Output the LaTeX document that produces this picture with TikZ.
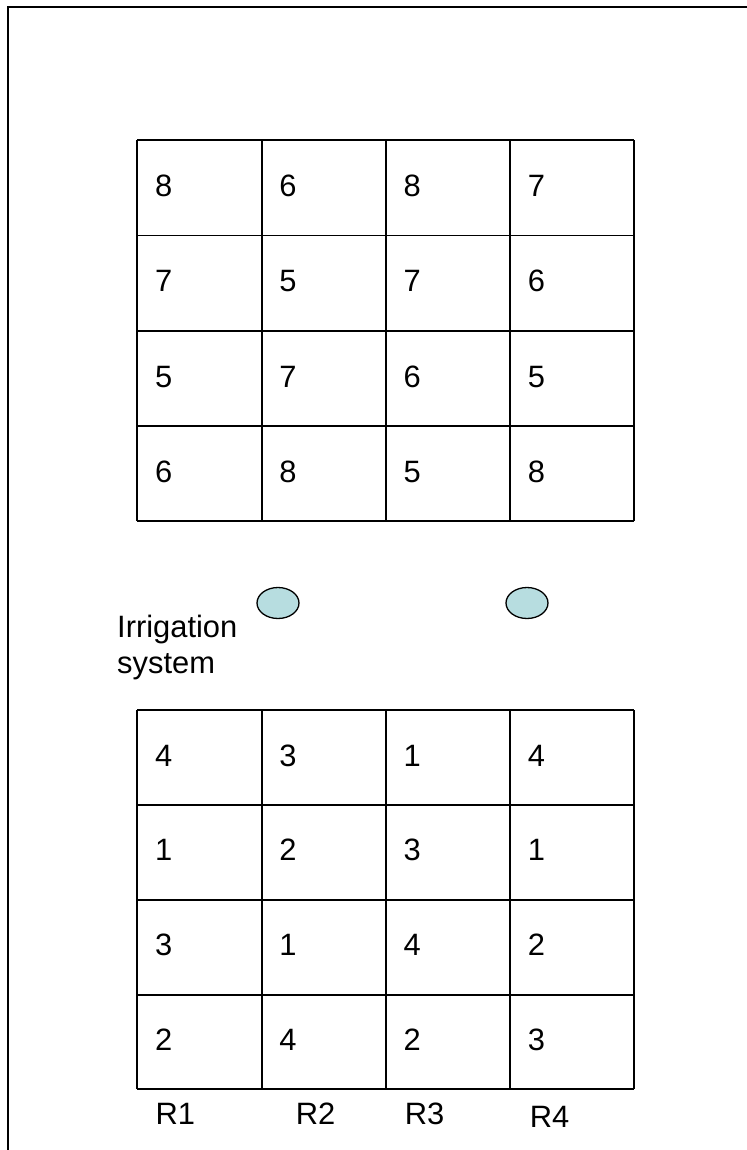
\documentclass[tikz,border=0pt]{standalone}
\usepackage{fontspec}
\setmainfont{Liberation Sans}
\usetikzlibrary{shapes.geometric}
\definecolor{sprinkler}{RGB}{183,221,224}
\begin{document}
\begin{tikzpicture}[x=1bp,y=-1bp,
  frame/.style={line width=1.3bp,black},
  gridline/.style={line width=1.6bp,black},
  celltext/.style={anchor=base west,inner sep=0pt,font=\fontsize{31}{36}\selectfont},
  sprink/.style={draw=black,fill=sprinkler,line width=1.3bp}]
\useasboundingbox (0,0) rectangle (747,1150);
% outer frame (left and top visible)
\coordinate (fbl) at (8,1152);
\coordinate (ftl) at (8,7);
\coordinate (ftr) at (749,7);
\draw[frame] (fbl) -- (ftl) -- (ftr);
% top grid
\foreach \x in {137,262,386,510,634} \draw[gridline] (\x,140) -- (\x,521);
\foreach \y in {140,235.5,331,426,521} \draw[gridline] (137,\y) -- (634,\y);
% bottom grid
\foreach \x in {137,262,386,510,634} \draw[gridline] (\x,710) -- (\x,1089);
\foreach \y in {710,805,900,995,1089} \draw[gridline] (137,\y) -- (634,\y);
% top numbers
\foreach \r/\vals in {0/{8,6,8,7},1/{7,5,7,6},2/{5,7,6,5},3/{6,8,5,8}}{
  \foreach \v [count=\c from 0] in \vals {
    \node[celltext] (t\r\c) at ({155+124.25*\c},{196.7+95.25*\r}) {\v};
  }
}
% bottom numbers
\foreach \r/\vals in {0/{4,3,1,4},1/{1,2,3,1},2/{3,1,4,2},3/{2,4,2,3}}{
  \foreach \v [count=\c from 0] in \vals {
    \node[celltext] (b\r\c) at ({155+124.25*\c},{766+94.75*\r}) {\v};
  }
}
% sprinklers
\node[sprink,ellipse,minimum width=42bp,minimum height=31bp,inner sep=0pt] (s1) at (278,603) {};
\node[sprink,ellipse,minimum width=42bp,minimum height=31bp,inner sep=0pt] (s2) at (527,603) {};
\node[celltext] (irr1) at (117,637) {Irrigation};
\node[celltext] (irr2) at (117,673) {system};
% replicate labels
\node[celltext] (r1) at (155.5,1124) {R1};
\node[celltext] (r2) at (295.6,1124) {R2};
\node[celltext] (r3) at (404.6,1124) {R3};
\node[celltext] (r4) at (529.6,1127) {R4};
\end{tikzpicture}
\end{document}
